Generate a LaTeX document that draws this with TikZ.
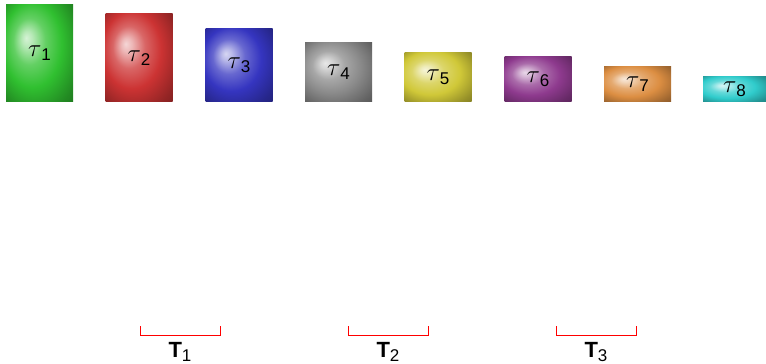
\documentclass[tikz,border=0pt]{standalone}
\usepackage{fontspec}
\setmainfont{Liberation Sans}
\usetikzlibrary{positioning}

\definecolor{colVerde}{HTML}{30C030}
\definecolor{colRojo}{HTML}{CC3333}
\definecolor{colAzul}{HTML}{3535C0}
\definecolor{colGris}{HTML}{8A8A8A}
\definecolor{colAmarillo}{HTML}{D0C838}
\definecolor{colMorado}{HTML}{8E3A8E}
\definecolor{colNaranja}{HTML}{DC8E42}
\definecolor{colCian}{HTML}{30CCCC}
\colorlet{colCaja}{colVerde}

% brillo suave arriba a la izquierda
\pgfdeclareradialshading[colCaja]{brillo}{\pgfpoint{-10bp}{8bp}}{%
  color(0bp)=(colCaja!20!white); color(4bp)=(colCaja!35!white);
  color(12bp)=(colCaja!75!white); color(22bp)=(colCaja);
  color(34bp)=(colCaja!72!black); color(50bp)=(colCaja!45!black)}

\newcommand{\subind}[1]{\raisebox{-4pt}{\fontsize{17}{20}\selectfont #1}}
\newcommand{\tarea}[1]{$\tau$\subind{#1}}

\begin{document}
\begin{tikzpicture}[
        x=1pt, y=-1pt,
        caja/.style={rectangle, anchor=south, minimum width=67pt, inner sep=0pt,
                     /utils/exec={\colorlet{colCaja}{#1}}, shading=brillo,
                     font=\fontsize{26}{30}\selectfont},
        corchete/.style={draw=red, line width=0.8pt},
        etiqueta/.style={anchor=base, inner sep=0pt, font=\fontsize{22}{26}\selectfont}
    ]
        \useasboundingbox (0,0) rectangle (766,364);

        % Tareas (altura decreciente, base comun)
        \node[caja=colVerde, minimum height=97pt] (tarea1) at (39.5,102) {\tarea{1}};
        \node[caja=colRojo, minimum height=88pt] (tarea2) at (139,102) {\tarea{2}};
        \node[caja=colAzul, minimum height=73pt] (tarea3) at (239,102) {\tarea{3}};
        \node[caja=colGris, minimum height=59pt] (tarea4) at (338.5,102) {\tarea{4}};
        \node[caja=colAmarillo, minimum height=49pt] (tarea5) at (438,102) {\tarea{5}};
        \node[caja=colMorado, minimum height=45pt] (tarea6) at (538,102) {\tarea{6}};
        \node[caja=colNaranja, minimum height=35pt] (tarea7) at (637.5,102) {\tarea{7}};
        \node[caja=colCian, minimum height=25pt, minimum width=63pt] (tarea8) at (734.5,102) {\tarea{8}};

        % Corchetes de los periodos
        \draw[corchete] (140,326) -- (140,335) -- (220,335) -- (220,326);
        \node[etiqueta] (T1) at (180,357) {\textbf{T}\subind{1}};

        \draw[corchete] (348,326) -- (348,335) -- (428,335) -- (428,326);
        \node[etiqueta] (T2) at (388,357) {\textbf{T}\subind{2}};

        \draw[corchete] (556,326) -- (556,335) -- (636,335) -- (636,326);
        \node[etiqueta] (T3) at (596,357) {\textbf{T}\subind{3}};
    \end{tikzpicture}
\end{document}
